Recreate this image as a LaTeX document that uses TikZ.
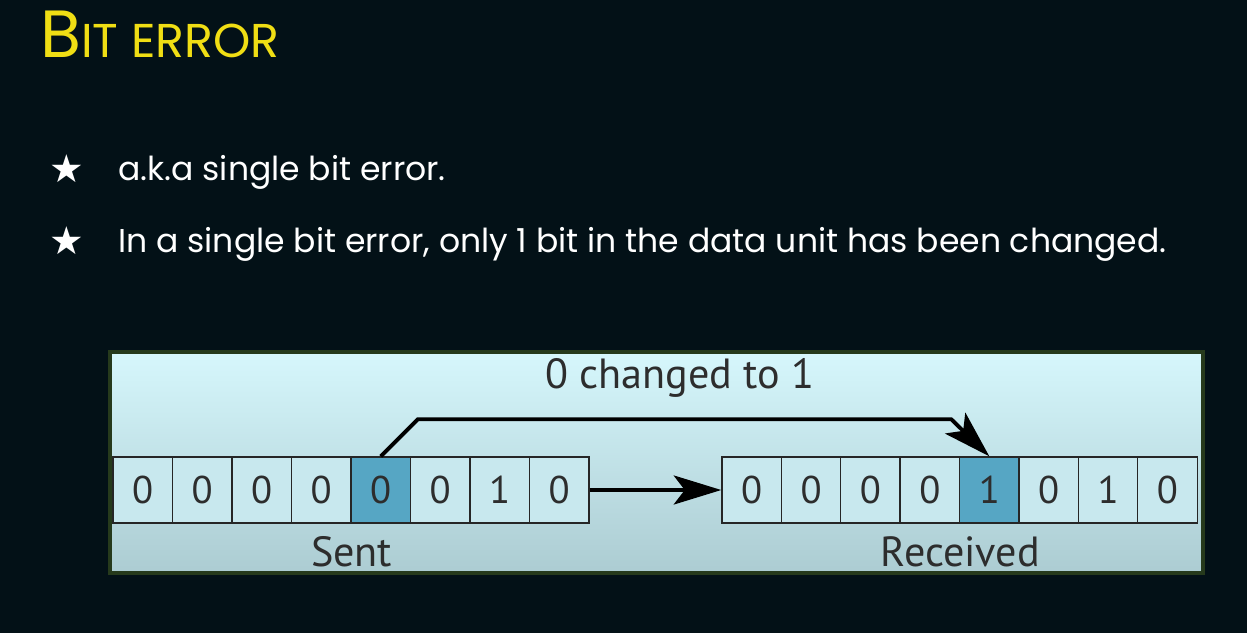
\documentclass[tikz,border=0pt]{standalone}
\usepackage{fontspec}
\setmainfont{PT Sans}
\newfontfamily\slidefont{Poppins}
\newfontfamily\symfont{DejaVu Sans}
\usetikzlibrary{arrows.meta,positioning,calc}

\definecolor{slidebg}{RGB}{3,17,23}
\definecolor{titleyellow}{RGB}{240,222,20}
\definecolor{panelrim}{RGB}{38,58,28}
\definecolor{paneltop}{RGB}{214,247,252}
\definecolor{panelbot}{RGB}{172,204,210}
\definecolor{cellfill}{RGB}{200,232,238}
\definecolor{cellhit}{RGB}{86,166,196}
\definecolor{inkgrey}{RGB}{45,45,45}

\begin{document}
\begin{tikzpicture}[x=0.02cm,y=-0.02cm]
  \tikzstyle{every node}+=[inner sep=0pt]
  \tikzstyle{bitcell}=[draw=black!85, line width=0.8pt, minimum width=1.19cm, minimum height=1.32cm, text=inkgrey, font=\fontsize{22}{26}\selectfont]
  \tikzstyle{bullettext}=[anchor=base west, text=white, font=\slidefont\fontsize{18.8}{22}\selectfont]
  \tikzstyle{starmark}=[text=white, font=\symfont\fontsize{22}{24}\selectfont]
  \tikzstyle{figlabel}=[text=inkgrey, font=\fontsize{24}{28}\selectfont]
  \tikzstyle{flow}=[line width=2.2pt, -{Stealth[length=0.95cm,width=0.58cm,inset=0.22cm]}]
  \fill [slidebg] (0,0) rectangle (1247,633);
  % heading and bullets
  \node [anchor=base west, text=titleyellow, font=\slidefont\fontsize{38}{42}\selectfont] (title) at (40,57) {B{\fontsize{27}{30}\selectfont IT ERROR}};
  \node [starmark] (star1) at (67,169) {★};
  \node [bullettext] (line1) at (118,180) {a.k.a single bit error.};
  \node [starmark] (star2) at (67,241) {★};
  \node [bullettext] (line2) at (118,252) {In a single bit error, only 1 bit in the data unit has been changed.};
  % panel
  \draw [panelrim, line width=2.6pt, top color=paneltop, bottom color=panelbot] (110,352) rectangle (1203,573);
  \foreach \b/\c [count=\i] in {0/cellfill,0/cellfill,0/cellfill,0/cellfill,0/cellhit,0/cellfill,1/cellfill,0/cellfill}
    \node [bitcell, fill=\c] (s\i) at ({113+59.5*(\i-0.5)},490) {\b};
  \foreach \b/\c [count=\i] in {0/cellfill,0/cellfill,0/cellfill,0/cellfill,1/cellhit,0/cellfill,1/cellfill,0/cellfill}
    \node [bitcell, fill=\c] (r\i) at ({722+59.4*(\i-0.5)},490) {\b};
  \draw [flow] (s8.east) -- (r1.west);
  \draw [flow] (s5.north) -- ++(37,-37) -- ($(r5.north)+(-38,-37)$) -- (r5.north);
  \node [figlabel] (change) at (680,378) {0 changed to 1};
  \node [figlabel] (sent) at ($(s4.east)+(0,62)$) {Sent};
  \node [figlabel] (recv) at ($(r4.east)+(0,62)$) {Received};
\end{tikzpicture}
\end{document}
